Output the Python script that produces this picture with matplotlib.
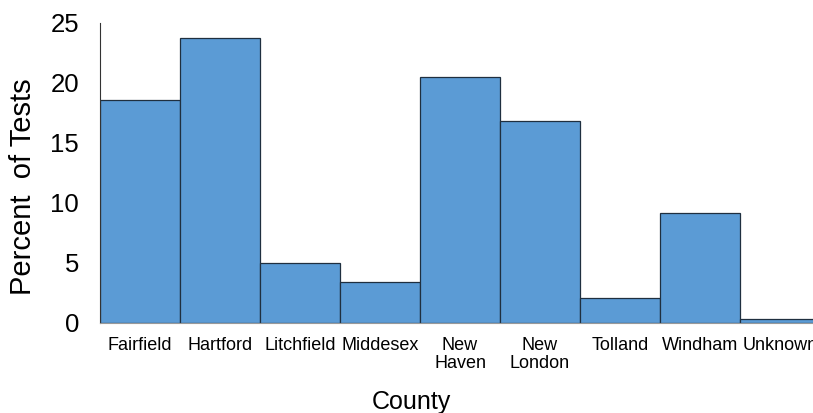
import matplotlib.pyplot as plt
import numpy as np

plt.rcParams['font.family'] = ['Liberation Sans', 'DejaVu Sans']

counties = ['Fairfield', 'Hartford', 'Litchfield', 'Middesex', 'New\nHaven',
            'New\nLondon', 'Tolland', 'Windham', 'Unknown']
percent = [18.6, 23.75, 4.98, 3.45, 20.5, 16.86, 2.08, 9.2, 0.33]

fig = plt.figure(figsize=(8.13, 4.13), dpi=100)
ax = fig.add_axes([100 / 813, 90 / 413, 720 / 813, 300 / 413])

x = np.arange(len(counties))
ax.bar(x, percent, width=1.0, color='#5B9BD5', edgecolor='#1f2f3f', linewidth=0.9)

ax.set_xlim(-0.5, len(counties) - 0.5)
ax.set_ylim(0, 25)
ax.set_yticks([0, 5, 10, 15, 20, 25])
ax.set_xticks(x)
ax.set_xticklabels(counties, fontsize=13, linespacing=1.05, va='top')
ax.tick_params(axis='y', length=0, pad=15, labelsize=18.5)
ax.tick_params(axis='x', length=0, pad=10)

for s in ['top', 'right']:
    ax.spines[s].set_visible(False)
ax.spines['left'].set_color('#333333')
ax.spines['bottom'].set_color('#999999')

ax.set_ylabel('Percent  of Tests', fontsize=21)
ax.yaxis.set_label_coords(-0.088, 0.455)
ax.set_xlabel('County', fontsize=18)
ax.xaxis.set_label_coords(0.432, -0.225)

fig.savefig('out.png', dpi=100)
